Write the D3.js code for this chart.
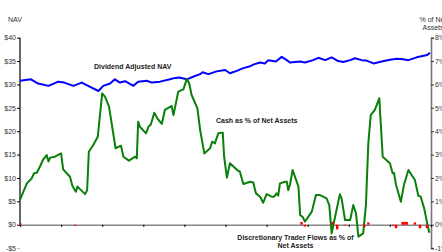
<!DOCTYPE html>
<html><head><meta charset="utf-8">
<script src="https://cdn.jsdelivr.net/npm/d3@7"></script>
<style>html,body{margin:0;padding:0;background:#fff;overflow:hidden}</style>
</head><body><svg id="c" width="442" height="252"></svg>
<script>
// ---- data (months from start, values) ----
const navT = [0,3.2,5.3,8.3,11.2,12.9,15.6,18.0,19.9,22.9,24.3,26.3,27.7,29.2,30.7,33.1,34.5,37.0,38.5,40.9,43.8,45.3,46.5,48.7,51.1,52.6,53.3,55.0,57.4,59.9,61.3,63.3,65.2,67.2,68.3,70.1,71.5,72.5,74.7,76.4,77.9,78.8,81.8,83.2,85.6,87.1,89.1,91.0,92.9,94.4,96.4,97.8,99.8,101.2,103.2,105.6,108.0,110.0,111.9,113.4,115.8,118.9,119.7];
const navValues = [30.8,31.1,30.2,29.7,30.6,30.4,29.7,30.4,29.7,28.6,29.7,30.2,31.1,30.4,30.7,29.7,30.6,30.8,30.4,30.6,31.1,31.4,31.5,31.1,31.8,32.2,32.6,32.2,32.8,33.1,32.4,32.9,33.5,33.9,34.3,34.7,34.5,35.2,34.9,35.9,35.2,34.7,34.9,34.7,35.2,35.7,35.2,35.8,35.0,34.8,35.2,35.6,35.2,35.1,34.5,34.9,35.3,35.5,35.4,35.2,35.8,36.3,36.8,36.4];
const cashT = [0,2.0,3.4,4.1,4.9,5.8,6.8,7.8,8.3,8.8,10.2,12.0,12.6,14.6,15.3,16.3,16.8,19.0,19.6,20.1,21.4,22.7,24.0,24.8,26.0,27.9,29.5,30.2,31.8,33.6,34.1,34.5,35.0,36.8,37.5,38.2,39.2,40.1,41.4,42.3,44.3,44.8,46.2,47.7,48.7,49.4,50.1,51.8,52.6,53.8,55.5,56.1,56.9,57.9,59.2,59.6,60.4,61.3,63.4,64.2,65.2,67.2,68.1,68.9,70.1,71.0,72.0,73.5,74.2,74.9,75.4,75.9,77.4,77.9,78.3,78.8,79.6,81.3,81.8,82.5,83.2,85.2,86.4,87.6,89.5,90.3,91.0,92.0,93.4,93.9,94.9,96.4,97.3,98.1,98.8,100.2,101.0,101.7,102.4,103.6,104.9,105.9,108.0,108.8,109.2,109.8,111.2,112.1,113.4,115.3,116.3,117.0,118.0,118.7,119.5];
const cashValues = [1.06,1.77,1.98,2.20,2.22,2.48,2.80,2.98,2.70,2.87,2.91,3.05,2.37,2.05,1.66,1.41,1.63,1.31,1.48,3.12,3.41,3.76,5.62,5.48,5.05,3.27,3.38,2.91,2.74,2.91,2.84,4.41,4.19,3.91,4.19,4.29,4.79,4.55,4.31,4.91,5.08,4.69,5.69,5.79,6.23,6.05,5.55,4.98,4.05,3.05,3.27,3.55,3.48,3.91,3.94,2.91,2.01,2.63,2.34,2.27,1.74,1.84,1.81,1.34,1.20,0.94,1.31,1.20,1.20,1.34,1.24,1.77,1.84,1.84,1.48,1.70,2.34,1.63,0.41,0.34,0.13,0.56,1.27,1.27,1.13,0.84,-0.37,0.34,1.30,1.13,0.20,0.20,0.84,0.49,-0.51,-0.37,0.84,3.48,4.69,4.91,5.41,2.91,2.63,2.20,2.22,1.70,0.98,1.70,2.34,1.91,1.24,1.20,0.70,0.20,-0.34];
const flowT = [0.2,16.1,82.2,83.2,91.2,92.6,94.9,100.5,101.7,109.0,109.8,111.7,112.3,112.9,115.3,116.8,118.8];
const flowValues = [0.05,-0.05,0.12,-0.08,0.12,-0.2,-0.03,-0.1,0.1,-0.05,-0.15,0.12,0.12,0.12,0.1,-0.15,-0.15];
const navTicks = [40,35,30,25,20,15,10,5,0,-5];
const pctTicks = [8,7,6,5,4,3,2,1,0,-1];
const xTicks = [0,12,24,36,48,60,72,84,96,108,120];

const svg = d3.select("#c");
const F = "Liberation Sans, Arial, sans-serif";
const x = d3.scaleLinear().domain([0,120]).range([20,431]);
const yL = d3.scaleLinear().domain([-5,40]).range([248.1,37.7]);
const yR = d3.scaleLinear().domain([-1,8]).range([248.1,37.7]);

// left axis
const gL = svg.append("g").attr("transform","translate(20,0)")
  .call(d3.axisLeft(yL).tickValues(navTicks).tickSize(3)
    .tickFormat(d => d < 0 ? "-$" + (-d) : "$" + d));
gL.select(".domain").remove();
gL.selectAll("text").attr("font-family",F).attr("font-size",7).attr("fill","#333").attr("x",-4);
gL.selectAll(".tick line").attr("stroke", d => d < 0 ? "#bbb" : "#000");
svg.append("line").attr("x1",20).attr("x2",20).attr("y1",yL(40)).attr("y2",yL(0))
  .attr("stroke","#000").attr("stroke-width",1.2);

// right axis
const gR = svg.append("g").attr("transform","translate(431,0)")
  .call(d3.axisRight(yR).tickValues(pctTicks).tickSize(3).tickFormat(d => d + "%"));
gR.select(".domain").attr("stroke","#777").attr("stroke-width",1.6);
gR.selectAll(".tick line").attr("stroke","#333");
gR.selectAll("text").attr("font-family",F).attr("font-size",7).attr("fill","#333").attr("x",4);

// x axis (zero line)
const gX = svg.append("g").attr("transform",`translate(0,${yR(0)})`)
  .call(d3.axisBottom(x).tickValues(xTicks).tickSize(2).tickFormat(""));
gX.select(".domain").attr("stroke","#888").attr("stroke-width",1.6);
gX.selectAll(".tick line").attr("stroke","#000").attr("stroke-width",1.2);

// lines
const navLine = d3.line().x((d,i) => x(navT[i])).y(d => yL(d));
svg.append("path").datum(navValues).attr("d",navLine)
  .attr("fill","none").attr("stroke","#0000ff").attr("stroke-width",2).attr("stroke-linejoin","round");
const cashLine = d3.line().x((d,i) => x(cashT[i])).y(d => yR(d));
svg.append("path").datum(cashValues).attr("d",cashLine)
  .attr("fill","none").attr("stroke","#0a800a").attr("stroke-width",2).attr("stroke-linejoin","round");

// flow bars
svg.selectAll("rect.flow").data(flowValues).join("rect").attr("class","flow")
  .attr("x",(d,i) => x(flowT[i]) - 1.2).attr("width",2.4)
  .attr("y",d => Math.min(yR(d), yR(0))).attr("height",d => Math.abs(yR(d) - yR(0)))
  .attr("fill","#ff0000");

// labels
const txt = (t,xx,yy,opts={}) => svg.append("text").text(t).attr("x",xx).attr("y",yy)
  .attr("font-family",F).attr("font-size",opts.size||7).attr("fill",opts.fill||"#333")
  .attr("font-weight",opts.bold?"bold":"normal").attr("text-anchor",opts.anchor||"start");
txt("NAV",8,22);
txt("% of Net",433,22,{anchor:"middle"});
txt("Assets",433,30,{anchor:"middle"});
txt("Dividend Adjusted NAV",94,69,{bold:true,fill:"#222"});
txt("Cash as % of Net Assets",216,123,{bold:true,fill:"#222"});
txt("Discretionary Trader Flows as % of",295.5,239.5,{bold:true,fill:"#222",anchor:"middle"});
txt("Net Assets",295.5,247.5,{bold:true,fill:"#222",anchor:"middle"});
</script></body></html>
